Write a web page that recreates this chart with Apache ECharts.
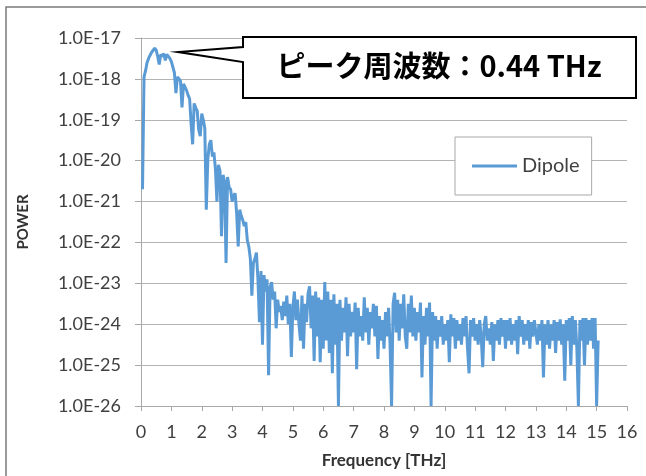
<!DOCTYPE html>
<html>
<head>
<meta charset="utf-8">
<script src="https://cdn.jsdelivr.net/npm/echarts@6/dist/echarts.min.js"></script>
<style>
html,body{margin:0;padding:0;background:#fff;}
#chart{width:646px;height:476px;}
</style>
</head>
<body>
<div id="chart"></div>
<script>
// Frequency grid (THz): evenly spaced FFT bins
const freqStartTHz = 0.05;
const freqStepTHz = 0.05;
// log10(POWER), one value per frequency bin
const logPower = [
  -20.7,-17.95,-17.8,-17.6,-17.5,-17.42,-17.35,-17.3,-17.25,-17.3,-17.45,-17.65,-17.4,-17.45,-17.38,-17.55,-17.4,-17.45,-17.5,-17.58,
  -17.62,-17.85,-18.35,-17.95,-18.0,-18.05,-18.7,-18.12,-18.2,-18.28,-18.4,-18.48,-19.1,-19.6,-18.6,-18.7,-18.78,-19.25,-19.4,-18.85,
  -19.0,-19.2,-21.2,-19.95,-19.6,-19.5,-19.9,-19.8,-20.2,-21.0,-20.1,-20.25,-21.85,-20.35,-20.5,-22.5,-20.4,-20.65,-20.7,-21.0,
  -20.85,-20.8,-21.3,-22.1,-21.2,-21.35,-21.45,-21.6,-21.5,-21.95,-22.1,-22.4,-23.3,-22.5,-22.4,-22.25,-22.9,-23.95,-22.7,-24.5,
  -22.8,-23.2,-22.9,-25.25,-23.1,-22.97,-23.4,-23.2,-24.1,-23.4,-23.7,-23.55,-23.9,-23.45,-23.8,-23.3,-24.0,-23.5,-24.8,-23.6,
  -23.2,-23.9,-23.4,-24.0,-24.4,-23.3,-24.6,-23.5,-23.95,-23.25,-23.07,-24.1,-23.3,-24.9,-23.2,-24.3,-23.35,-24.93,-23.4,-24.6,
  -22.97,-24.4,-23.2,-24.7,-23.4,-25.2,-23.27,-24.5,-23.5,-26.0,-23.4,-24.4,-23.6,-24.2,-23.34,-24.78,-23.5,-24.3,-23.7,-24.2,
  -23.47,-25.1,-23.6,-24.3,-23.8,-24.4,-23.34,-24.2,-23.6,-24.5,-23.7,-24.1,-23.5,-24.3,-23.55,-24.85,-23.8,-24.4,-23.9,-24.6,
  -23.7,-24.3,-23.6,-24.5,-26.0,-23.5,-23.23,-24.2,-23.4,-24.4,-23.5,-24.1,-23.27,-24.3,-24.6,-23.5,-24.2,-23.3,-24.3,-23.6,
  -24.4,-23.7,-24.2,-23.47,-25.3,-23.8,-24.5,-23.6,-24.3,-23.47,-26.0,-23.7,-24.4,-23.8,-24.6,-23.9,-24.3,-23.8,-24.5,-24.0,
  -24.4,-23.9,-24.93,-23.76,-24.3,-23.85,-24.6,-23.9,-24.4,-24.0,-24.5,-23.85,-24.3,-23.8,-24.6,-25.2,-23.9,-24.3,-23.85,-24.4,
  -24.0,-24.5,-23.9,-24.3,-25.05,-24.0,-23.8,-24.4,-24.1,-24.5,-23.95,-24.9,-24.0,-24.4,-23.9,-24.5,-23.85,-24.3,-23.9,-24.6,
  -23.9,-24.4,-23.85,-24.5,-24.0,-24.4,-23.9,-24.73,-23.8,-24.3,-23.9,-24.5,-24.0,-24.4,-23.9,-24.6,-23.95,-24.3,-23.9,-23.88,
  -24.5,-24.0,-24.4,-23.9,-25.3,-24.0,-24.5,-23.9,-24.6,-24.0,-24.4,-23.9,-24.7,-23.95,-24.4,-23.88,-24.5,-24.0,-25.38,-23.9,
  -24.4,-23.85,-25.0,-23.8,-24.5,-23.9,-24.6,-26.0,-23.9,-24.4,-23.85,-25.0,-23.85,-24.5,-23.9,-24.4,-23.85,-24.6,-23.85,-26.0,
  -24.4
];
const seriesName = 'Dipole';
const xAxisTitle = 'Frequency [THz]';
const yAxisTitle = 'POWER';
const calloutText = 'ピーク周波数：0.44 THz';

const points = logPower.map((v, i) => [+(freqStartTHz + i * freqStepTHz).toFixed(2), v]);

const chart = echarts.init(document.getElementById('chart'), null, {renderer: 'canvas'});
const fontFam = 'Lato, "Noto Sans", sans-serif';
chart.setOption({
  animation: false,
  backgroundColor: '#fff',
  grid: {left: 141, right: 19, top: 38, bottom: 70, containLabel: false},
  xAxis: {
    type: 'value', min: 0, max: 16, interval: 1,
    name: xAxisTitle, nameLocation: 'middle', nameGap: 46,
    nameTextStyle: {fontFamily: fontFam, fontSize: 17, fontWeight: 'bold', color: '#333'},
    axisLine: {show: true, lineStyle: {color: '#a8a8a8', width: 1}},
    axisTick: {show: true, length: 5, lineStyle: {color: '#a8a8a8'}},
    axisLabel: {fontFamily: fontFam, fontSize: 18, color: '#404040', margin: 17},
    splitLine: {show: false}
  },
  yAxis: {
    type: 'value', min: -26, max: -17, interval: 1,
    name: yAxisTitle, nameLocation: 'middle', nameGap: 110, nameRotate: 90,
    nameTextStyle: {fontFamily: fontFam, fontSize: 15, fontWeight: 'bold', color: '#333'},
    axisLine: {show: true, lineStyle: {color: '#a8a8a8', width: 1}},
    axisTick: {show: true, length: 6, lineStyle: {color: '#a8a8a8'}},
    axisLabel: {fontFamily: fontFam, fontSize: 18, color: '#404040', margin: 20,
      formatter: v => '1.0E' + v},
    splitLine: {show: true, lineStyle: {color: '#b4b4b4', width: 1}}
  },
  legend: {
    data: [{name: seriesName, icon: 'rect'}], left: 455, top: 137,
    padding: [19, 12, 19, 17],
    borderColor: '#a8a8a8', borderWidth: 1, backgroundColor: '#fff',
    itemWidth: 45, itemHeight: 3, itemGap: 4,
    textStyle: {fontFamily: fontFam, fontSize: 20, color: '#404040'}
  },
  series: [{
    name: seriesName, type: 'line', data: points,
    showSymbol: false, symbol: 'none',
    lineStyle: {color: '#5B9BD5', width: 3},
    itemStyle: {color: '#5B9BD5'},
    clip: true
  }],
  graphic: [
    {type: 'rect', silent: true, shape: {x: 6, y: 7, width: 700, height: 500},
     style: {fill: null, stroke: '#7a7a7a', lineWidth: 1.5}, z: 100},
    {type: 'polygon', silent: true,
     shape: {points: [[243,37],[636,37],[636,98],[243,98],[243,62],[178,52],[243,47]]},
     style: {fill: '#fff', stroke: '#000', lineWidth: 2}, z: 100},
    {type: 'text', silent: true, x: 439, y: 66, z: 101,
     style: {text: calloutText, fill: '#000', align: 'center', verticalAlign: 'middle',
       font: 'bold 29px "Noto Sans CJK JP", "Noto Sans", sans-serif'}}
  ]
});
</script>
</body>
</html>
